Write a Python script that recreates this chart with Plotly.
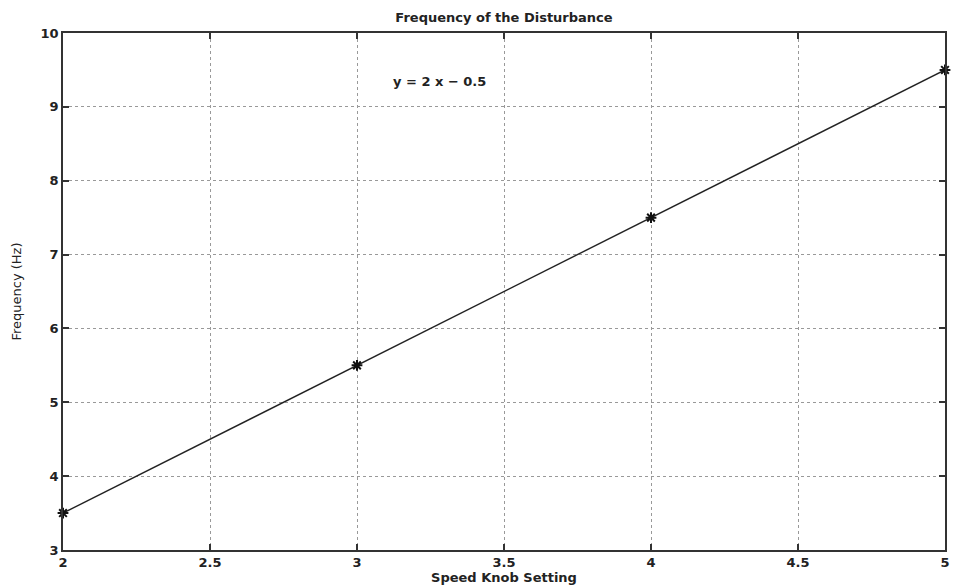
import plotly.graph_objects as go

knob = [2, 3, 4, 5]
freq = [3.5, 5.5, 7.5, 9.5]
xticks = [2, 2.5, 3, 3.5, 4, 4.5, 5]
xticklabels = ["2", "2.5", "3", "3.5", "4", "4.5", "5"]
yticks = [3, 4, 5, 6, 7, 8, 9, 10]
yticklabels = ["3", "4", "5", "6", "7", "8", "9", "10"]

FONT = "DejaVu Sans"

fig = go.Figure()
fig.add_trace(go.Scatter(
    x=knob, y=freq, mode="lines+markers",
    line=dict(color="#222", width=1.4),
    marker=dict(symbol="asterisk-open", size=9, color="#111", line=dict(width=2, color="#111")),
    showlegend=False, cliponaxis=False,
))

fig.add_annotation(x=3.28, y=9.34, text="<b>y = 2 x \u2212 0.5</b>", showarrow=False,
                   font=dict(family=FONT, size=13, color="#222"))

axis_common = dict(
    showline=True, linecolor="#333", linewidth=1.5, mirror="ticks",
    ticks="inside", ticklen=6, tickcolor="#333", tickwidth=1.5,
    showgrid=True, gridcolor="#999", griddash="dot", gridwidth=1,
    zeroline=False, ticklabeloverflow="allow",
    tickfont=dict(family=FONT, size=13, color="#222", weight="bold"),
)

fig.update_xaxes(range=[2, 5], tickvals=xticks, ticktext=xticklabels,
                 title=dict(text="<b>Speed Knob Setting</b>", standoff=2,
                            font=dict(family=FONT, size=13, color="#222")),
                 **axis_common)
fig.update_yaxes(range=[3, 10], tickvals=yticks, ticktext=yticklabels,
                 title=dict(text="Frequency (Hz)", standoff=16,
                            font=dict(family=FONT, size=13, color="#222")),
                 **axis_common)

fig.update_layout(
    width=956, height=587,
    margin=dict(l=63, r=6, t=33, b=36),
    paper_bgcolor="white", plot_bgcolor="white",
    title=dict(text="<b>Frequency of the Disturbance</b>", xref="paper", x=0.5, xanchor="center",
               yref="container", y=0.97, yanchor="middle",
               font=dict(family=FONT, size=13, color="#222")),
)

fig.write_html("out.html")
